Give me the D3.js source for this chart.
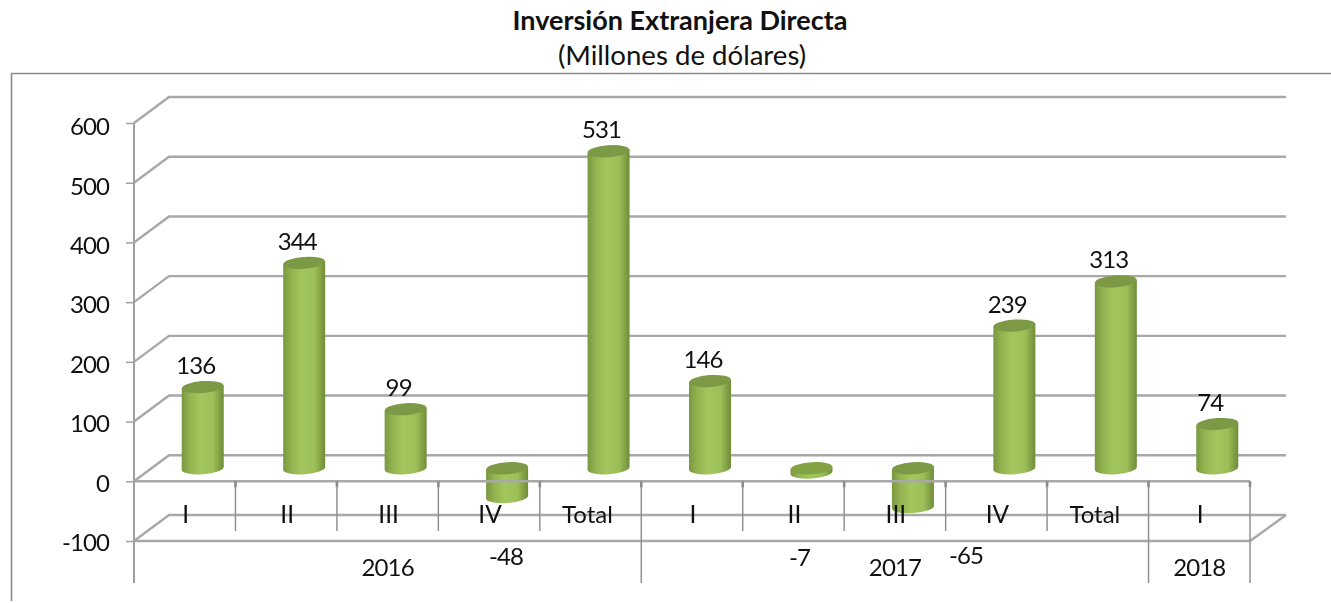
<!DOCTYPE html>
<html><head><meta charset="utf-8">
<script src="https://cdn.jsdelivr.net/npm/d3@7/dist/d3.min.js"></script>
<style>html,body{margin:0;background:#fff}svg{display:block}text{font-family:Lato,Carlito,sans-serif;fill:#111}</style>
</head><body><svg id="c" width="1331" height="603"></svg>
<script>
const quarters=["I","II","III","IV","Total","I","II","III","IV","Total","I"];
const values=[136,344,99,-48,531,146,-7,-65,239,313,74];
const valueLabels=["136","344","99","-48","531","146","-7","-65","239","313","74"];
const years=[{label:"2016",from:0,to:5},{label:"2017",from:5,to:10},{label:"2018",from:10,to:11}];
const yTicks=[-100,0,100,200,300,400,500,600];
const titleMain="Inversión Extranjera Directa";
const titleSub="(Millones de dólares)";
// hand-placed labels for the negative bars, as in the source chart
const negLabelShift={3:[-1,565],6:[-12,566],7:[53,564]};

const W=1331,H=603,depthX=35,depthY=26,gridCol="#a8a8a8",axisCol="#a0a0a0",tickCol="#8c8c8c";
const x=d3.scaleBand().domain(d3.range(quarters.length)).range([134,1250]).paddingInner(0).paddingOuter(0);
const y=d3.scaleLinear().domain([-100,600]).range([541,123]);
const svg=d3.select("#c");
const defs=svg.append("defs");
const grad=defs.append("linearGradient").attr("id","cyl");
[[0,"#7a9740"],[.2,"#93b450"],[.45,"#a2c65d"],[.75,"#9cbf58"],[1,"#708c38"]].forEach(s=>grad.append("stop").attr("offset",s[0]).attr("stop-color",s[1]));
const blur=defs.append("filter").attr("id","soft").attr("filterUnits","userSpaceOnUse").attr("x",0).attr("y",0).attr("width",W).attr("height",H);
blur.append("feGaussianBlur").attr("stdDeviation",.45);

svg.append("path").attr("d",`M11.5,${H-2}V73.5H${W}`).attr("fill","none").attr("stroke","#8a8a8a").attr("stroke-width",1.6);
const t=svg.append("g").attr("text-anchor","middle");
t.append("text").attr("x",680).attr("y",30).attr("font-size",27).attr("font-weight",700).text(titleMain);
t.append("text").attr("x",682).attr("y",65).attr("font-size",27.6).text(titleSub);

const grid=svg.append("g").attr("filter","url(#soft)").attr("fill","none").attr("stroke",gridCol).attr("stroke-width",2.4);
yTicks.forEach(v=>{
  const yy=y(v);
  grid.append("path").attr("d",`M134,${yy}L${134+depthX},${yy-depthY}H1286`);
});
grid.append("path").attr("d",`M134,${y(-100)}H1250L1286,${y(-100)-depthY}`);

const bw=42,ry=6,tilt=-4;
const cx=i=>x(i)+x.bandwidth()/2+depthX/2+.5;
const cy=v=>y(v)-depthY/2;
function cyl(g,i,v){
  const c=cx(i),a=cy(Math.max(v,0)),b=cy(Math.min(v,0));
  const slope=Math.tan(tilt*Math.PI/180)*bw/2;
  const l=c-bw/2,r=c+bw/2;
  g.append("path").attr("d",`M${l},${a-slope}L${r},${a+slope}L${r},${b+slope}A${bw/2},${ry} ${tilt} 0 1 ${l},${b-slope}Z`).attr("fill","url(#cyl)");
  g.append("ellipse").attr("transform",`translate(${c},${a}) rotate(${tilt})`).attr("rx",bw/2).attr("ry",ry).attr("fill",Math.abs(v)<10?"#83a342":"#7b9a45");
}
const bars=svg.append("g").attr("filter","url(#soft)");
values.forEach((v,i)=>cyl(bars.append("g"),i,v));

const over=svg.append("g").attr("filter","url(#soft)").attr("fill","none");
over.append("path").attr("d",`M134,${y(0)}H1250`).attr("stroke",gridCol).attr("stroke-width",2.4);

const yAxis=d3.axisLeft(y).tickValues(yTicks).tickSize(8).tickPadding(17).tickFormat(v=>String(v));
const ya=svg.append("g").attr("transform","translate(134,0)").call(yAxis);
ya.select(".domain").remove();
ya.selectAll("line").attr("stroke",axisCol).attr("stroke-width",1.5);
ya.selectAll("text").attr("font-size",24).attr("font-family","Lato").attr("fill","#111").style("letter-spacing","-.9px").attr("dy",".36em").attr("y",v=>1+2*(v+100)/700);
over.append("line").attr("x1",134).attr("x2",134).attr("y1",y(600)).attr("y2",583).attr("stroke",axisCol).attr("stroke-width",2);

const ticks=svg.append("g").attr("stroke",tickCol).attr("stroke-width",1.4);
const outer=new Set(years.flatMap(d=>[d.from,d.to]));
d3.range(1,quarters.length+1).forEach(i=>{
  const xx=i<quarters.length?x(i):x.range()[1];
  ticks.append("line").attr("x1",xx).attr("x2",xx).attr("y1",y(0)).attr("y2",outer.has(i)?583:531);
  ticks.append("line").attr("x1",xx).attr("x2",xx).attr("y1",y(0)).attr("y2",y(0)+6).attr("stroke-width",2.6);
});

const cat=svg.append("g").attr("text-anchor","middle");
quarters.forEach((q,i)=>cat.append("text").attr("x",x(i)+x.bandwidth()/2+(q==="Total"?-3:1)).attr("y",523).attr("font-size",q==="Total"?24:24.5).text(q));
years.forEach(d=>{
  const xm=(x(d.from)+(d.to<quarters.length?x(d.to):x.range()[1]))/2;
  cat.append("text").attr("x",xm).attr("y",576).attr("font-size",24).style("letter-spacing","-.9px").text(d.label);
});

const lab=svg.append("g").attr("text-anchor","middle").attr("font-size",24).style("letter-spacing","-.9px");
values.forEach((v,i)=>{
  const sh=negLabelShift[i];
  const px=sh?cx(i)+sh[0]:cx(i)-7;
  const py=sh?sh[1]:cy(v)-13;
  lab.append("text").attr("x",px).attr("y",py).text(valueLabels[i]);
});
</script></body></html>
